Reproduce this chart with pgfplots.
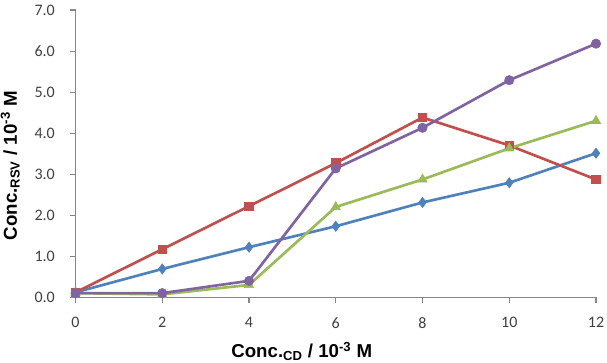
\documentclass[border=0pt]{standalone}
\usepackage{fontspec}
\setmainfont{Carlito}
\newfontfamily\arialfont{Liberation Sans}
\usepackage{pgfplots}
\pgfplotsset{compat=1.18}
\definecolor{sblue}{HTML}{4F81BD}
\definecolor{sred}{HTML}{C0504D}
\definecolor{sgreen}{HTML}{9BBB59}
\definecolor{spurple}{HTML}{8064A2}
\definecolor{axgray}{HTML}{868686}
\definecolor{tickgray}{HTML}{404040}
\begin{document}
\begin{tikzpicture}
\begin{axis}[
  scale only axis,
  width=390pt, height=215.25pt,
  xmin=0, xmax=12, ymin=0, ymax=7,
  axis x line=bottom, axis y line=left,
  axis line style={draw=axgray, line width=0.8pt, -},
  xtick={0,2,...,12},
  ytick={0,1,...,7},
  tick align=outside,
  major tick length=4.5pt,
  tick style={draw=axgray, line width=0.8pt},
  /pgf/number format/assume math mode=true,
  ticklabel style={font=\fontsize{12}{14}\selectfont, text=tickgray},
  xticklabel style={yshift=-7pt},
  yticklabel style={xshift=-7.5pt, /pgf/number format/fixed, /pgf/number format/fixed zerofill, /pgf/number format/precision=1},
  xlabel={\arialfont\bfseries Conc.\textsubscript{CD} / 10\textsuperscript{-3} M},
  ylabel={\arialfont\bfseries Conc.\textsubscript{RSV} / 10\textsuperscript{-3} M},
  every axis x label/.style={at={(axis description cs:0.5,0)}, anchor=base, xshift=-25.5pt, yshift=-45.5pt, font=\fontsize{14}{16}\selectfont},
  every axis y label/.style={at={(axis description cs:0,0.5)}, rotate=90, anchor=base, yshift=44pt, xshift=-9pt, font=\fontsize{14}{16}\selectfont},
  clip=false,
  every axis plot/.append style={line width=2pt},
]
\coordinate (SW) at (rel axis cs:0,0);
\coordinate (NE) at (rel axis cs:1,1);
\addplot[sblue, mark=diamond*, mark size=3.8pt, mark options={fill=sblue, line width=0.5pt}] coordinates {
(0,0.12) (2,0.69) (4,1.22) (6,1.73) (8,2.31) (10,2.79) (12,3.51)};
\addplot[sred, mark=square*, mark size=3.2pt, mark options={fill=sred, line width=0.5pt}] coordinates {
(0,0.12) (2,1.17) (4,2.22) (6,3.27) (8,4.38) (10,3.70) (12,2.87)};
\addplot[sgreen, mark=triangle*, mark size=4pt, mark options={fill=sgreen, line width=0.5pt}] coordinates {
(0,0.10) (2,0.07) (4,0.30) (6,2.20) (8,2.87) (10,3.63) (12,4.30)};
\addplot[spurple, mark=*, mark size=3.5pt, mark options={fill=spurple, line width=0.5pt}] coordinates {
(0,0.10) (2,0.10) (4,0.40) (6,3.14) (8,4.13) (10,5.29) (12,6.18)};
\end{axis}
\pgfresetboundingbox
\path[use as bounding box] ([shift={(-56.6pt,-48.75pt)}]SW) rectangle ([shift={(8.25pt,7.5pt)}]NE);
\end{tikzpicture}
\end{document}
